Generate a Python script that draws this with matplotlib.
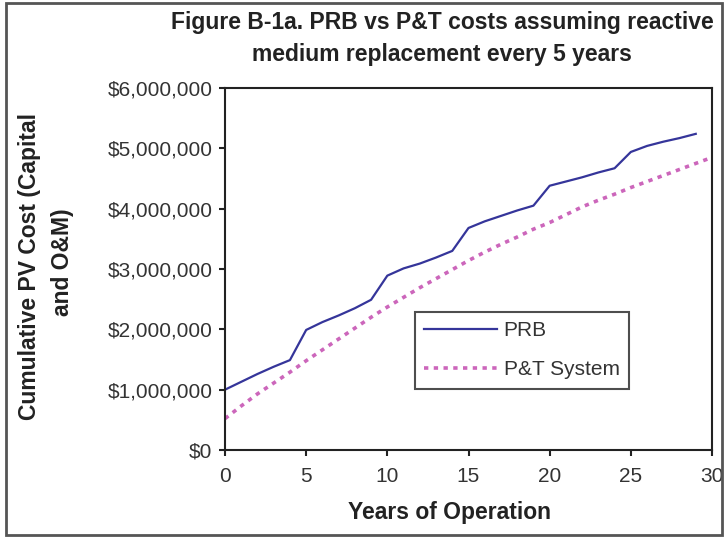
import matplotlib

matplotlib.use("Agg")
import matplotlib.pyplot as plt  # noqa: E402
from matplotlib.patches import Rectangle  # noqa: E402
from matplotlib.ticker import FuncFormatter, MultipleLocator  # noqa: E402

plt.rcParams["font.family"] = ["Liberation Sans", "DejaVu Sans"]

# Cumulative present-value cost, in $ millions
prb_years = list(range(0, 30))
prb_cost = [1.00, 1.13, 1.26, 1.38, 1.49,
            1.99, 2.12, 2.23, 2.35, 2.49,
            2.89, 3.01, 3.09, 3.19, 3.30,
            3.68, 3.79, 3.88, 3.97, 4.05,
            4.38, 4.45, 4.52, 4.60, 4.67,
            4.94, 5.04, 5.11, 5.17, 5.24]

pt_years = list(range(0, 31))
pt_cost = [0.52, 0.73, 0.93, 1.11, 1.29,
           1.48, 1.66, 1.84, 2.02, 2.20,
           2.37, 2.53, 2.69, 2.84, 2.99,
           3.14, 3.28, 3.41, 3.53, 3.66,
           3.77, 3.90, 4.03, 4.14, 4.24,
           4.35, 4.45, 4.55, 4.65, 4.75,
           4.85]

series_labels = ["PRB", "P&T System"]
title_lines = ["Figure B-1a. PRB vs P&T costs assuming reactive",
               "medium replacement every 5 years"]

PRB_COLOR = "#35359a"
PT_COLOR = "#cc66bb"
AXIS_COLOR = "#222222"
TEXT_COLOR = "#222222"

W, H = 725, 537
fig = plt.figure(figsize=(W / 100, H / 100), dpi=100)
ax = fig.add_axes([225 / W, 1 - 450 / H, 487 / W, 362 / H])

ax.plot(prb_years, [v * 1e6 for v in prb_cost], color=PRB_COLOR,
        linewidth=1.6, label=series_labels[0])
ax.plot(pt_years, [v * 1e6 for v in pt_cost], color=PT_COLOR,
        linewidth=2.6, linestyle=(0, (1.2, 1.5)), label=series_labels[1])

ax.set_xlim(0, 30)
ax.set_ylim(0, 6e6)
ax.xaxis.set_major_locator(MultipleLocator(5))
ax.yaxis.set_major_locator(MultipleLocator(1e6))
ax.yaxis.set_major_formatter(FuncFormatter(lambda v, _: f"${v:,.0f}"))

for spine in ax.spines.values():
    spine.set_color(AXIS_COLOR)
    spine.set_linewidth(1.5)
ax.tick_params(axis="both", direction="out", length=4, width=1.5,
               colors=AXIS_COLOR, labelsize=15, labelcolor="#333333")
ax.tick_params(axis="x", pad=8)
ax.tick_params(axis="y", pad=5)

leg = ax.legend(loc="upper left", bbox_to_anchor=(190 / 487, 1 - 224 / 362),
                frameon=True, fancybox=False, fontsize=15,
                handlelength=3.5, handletextpad=0.3, labelspacing=0.95,
                borderpad=0.45, borderaxespad=0)
leg.get_frame().set_edgecolor(AXIS_COLOR)
leg.get_frame().set_linewidth(1.5)
for t in leg.get_texts():
    t.set_color("#333333")

# Title and axis labels placed in figure pixels
fig.text(442 / W, 1 - 22 / H, title_lines[0], ha="center", va="center",
         fontsize=16.5, fontweight="bold", color=TEXT_COLOR)
fig.text(442 / W, 1 - 55 / H, title_lines[1], ha="center", va="center",
         fontsize=16.5, fontweight="bold", color=TEXT_COLOR)
fig.text(449 / W, 1 - 512 / H, "Years of Operation", ha="center", va="center",
         fontsize=16.5, fontweight="bold", color=TEXT_COLOR)
fig.text(30 / W, 1 - 267 / H, "Cumulative PV Cost (Capital", ha="center",
         va="center", rotation=90, fontsize=16.5, fontweight="bold",
         color=TEXT_COLOR)
fig.text(62 / W, 1 - 262 / H, "and O&M)", ha="center", va="center",
         rotation=90, fontsize=16.5, fontweight="bold", color=TEXT_COLOR)

# Outer frame around the chart
fig.patches.append(Rectangle((6 / W, 2 / H), 716 / W, 532 / H,
                             transform=fig.transFigure, fill=False,
                             edgecolor="#555555", linewidth=2))

fig.savefig("out.png", dpi=100)
plt.close(fig)
